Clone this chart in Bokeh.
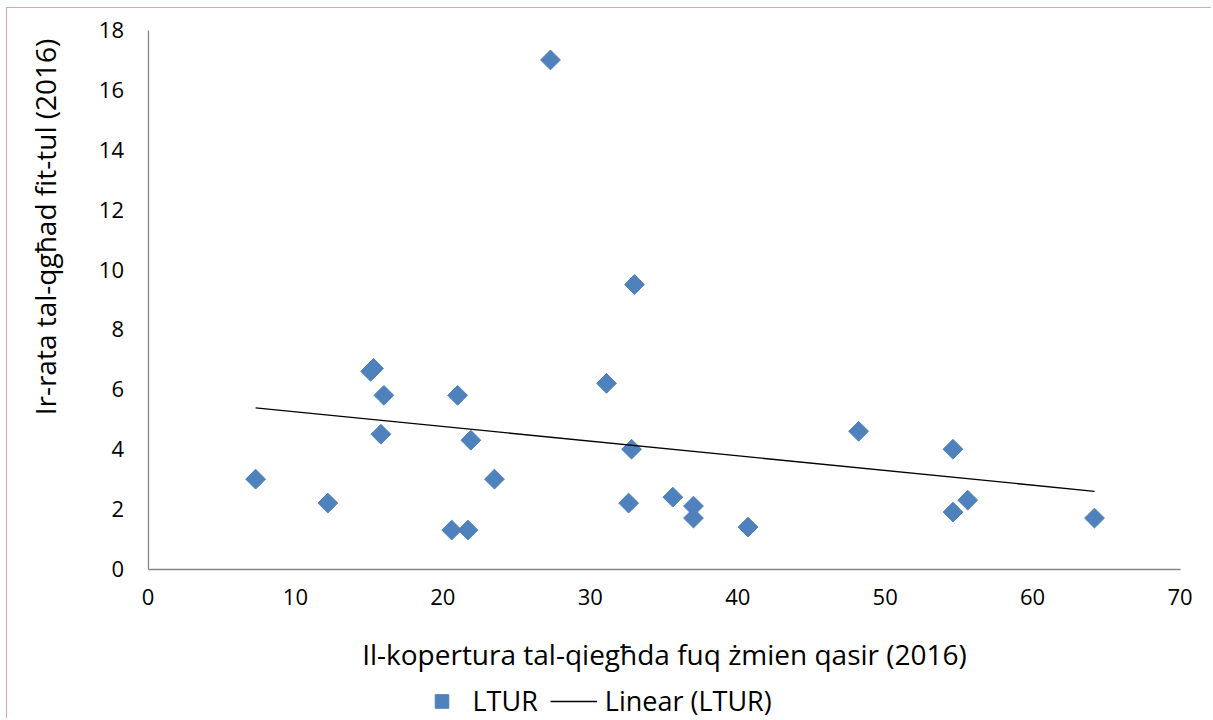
import numpy as np
from bokeh.plotting import figure
from bokeh.models import Range1d, Legend, LegendItem, FixedTicker, Label
from bokeh.embed import file_html
from bokeh.resources import INLINE

# Data
coverage = [7.3, 12.2, 15.1, 15.3, 16.0, 15.8, 21.0, 21.9, 20.6, 21.7, 23.5, 27.3,
            31.1, 33.0, 32.8, 32.6, 35.6, 37.0, 37.0, 40.7, 48.2, 54.6, 54.6, 55.6, 64.2]
ltur = [3.0, 2.2, 6.6, 6.7, 5.8, 4.5, 5.8, 4.3, 1.3, 1.3, 3.0, 17.0,
        6.2, 9.5, 4.0, 2.2, 2.4, 2.1, 1.7, 1.4, 4.6, 4.0, 1.9, 2.3, 1.7]
x_ticks = [0, 10, 20, 30, 40, 50, 60, 70]
y_ticks = [0, 2, 4, 6, 8, 10, 12, 14, 16, 18]
x_title = "Il-kopertura tal-qiegħda fuq żmien qasir (2016)"
y_title = "Ir-rata tal-qgħad fit-tul (2016)"
series_name = "LTUR"
trend_name = "Linear (LTUR)"

FONT = "Open Sans"
BLUE = "#4F81BD"

# page geometry (pixels): canvas content box and plot-area corners
W, H = 1205, 711
CL, CT = 7.5, 8.5                 # canvas content origin on the page
CR, CB = CL + W, CT + H
PX0, PX1 = 148.0, 1180.0          # x = first / last tick
PY0, PY1 = 569.0, 30.0            # y = first / last tick

xmin, xmax = x_ticks[0], x_ticks[-1]
ymin, ymax = y_ticks[0], y_ticks[-1]
sx = (PX1 - PX0) / (xmax - xmin)
sy = (PY0 - PY1) / (ymax - ymin)
x_range = Range1d(xmin - (PX0 - CL) / sx, xmax + (CR - PX1) / sx)
y_range = Range1d(ymin - (CB - PY0) / sy, ymax + (PY1 - CT) / sy)

p = figure(width=W, height=H, output_backend="svg", toolbar_location=None,
           x_range=x_range, y_range=y_range,
           min_border_left=0, min_border_right=0, min_border_top=0, min_border_bottom=0)
p.outline_line_color = None
p.grid.visible = False
p.background_fill_color = "white"
p.border_fill_color = "white"
p.styles = {"margin-left": "6px", "margin-top": "7px",
            "border-left": "1.5px solid #E0A4A4", "border-top": "1.5px solid #E0A4A4"}

p.xaxis.ticker = FixedTicker(ticks=x_ticks)
p.yaxis.ticker = FixedTicker(ticks=y_ticks)
p.xaxis.fixed_location = ymin
p.yaxis.fixed_location = xmin
p.xaxis.bounds = (xmin, xmax)
p.yaxis.bounds = (ymin, ymax)
for ax in (p.xaxis, p.yaxis):
    ax.axis_line_color = "#868686"
    ax.axis_line_width = 1.3
    ax.major_tick_line_color = None
    ax.minor_tick_line_color = None
    ax.major_tick_out = 0
    ax.major_tick_in = 0
    ax.major_label_text_font = FONT
    ax.major_label_text_font_size = "22px"
    ax.major_label_text_color = "black"
p.yaxis.major_label_standoff = 24
p.xaxis.major_label_standoff = 20

p.xaxis.axis_label = x_title
p.xaxis.axis_label_text_font = FONT
p.xaxis.axis_label_text_font_size = "28px"
p.xaxis.axis_label_text_font_style = "normal"
p.xaxis.axis_label_text_color = "black"
p.xaxis.axis_label_standoff = 26

ylab = Label(x=xmin - (PX0 - 45) / sx, y=ymin + (PY0 - 227) / sy, text=y_title,
             angle=np.pi / 2, text_align="center", text_baseline="middle",
             text_font=FONT, text_font_size="28px", text_color="black")
p.add_layout(ylab)

sc = p.scatter(coverage, ltur, marker="square", size=14, angle=np.pi / 4,
               fill_color=BLUE, line_color=BLUE)

xa = np.array(coverage)
ya = np.array(ltur)
slope, intercept = np.polyfit(xa, ya, 1)
tx = [xa.min(), xa.max()]
ty = [slope * v + intercept for v in tx]
ln = p.line(tx, ty, line_color="black", line_width=1.3)

legend = Legend(items=[LegendItem(label=series_name, renderers=[sc]),
                       LegendItem(label=trend_name, renderers=[ln])],
                location=(418 - CL, 0), orientation="horizontal",
                glyph_width=47, glyph_height=34, label_standoff=8, spacing=12,
                padding=0, margin=0, border_line_color=None, background_fill_alpha=0,
                label_text_font=FONT, label_text_font_size="27px", label_text_color="black")
p.add_layout(legend)

open("out.html", "w").write(file_html(p, INLINE))
